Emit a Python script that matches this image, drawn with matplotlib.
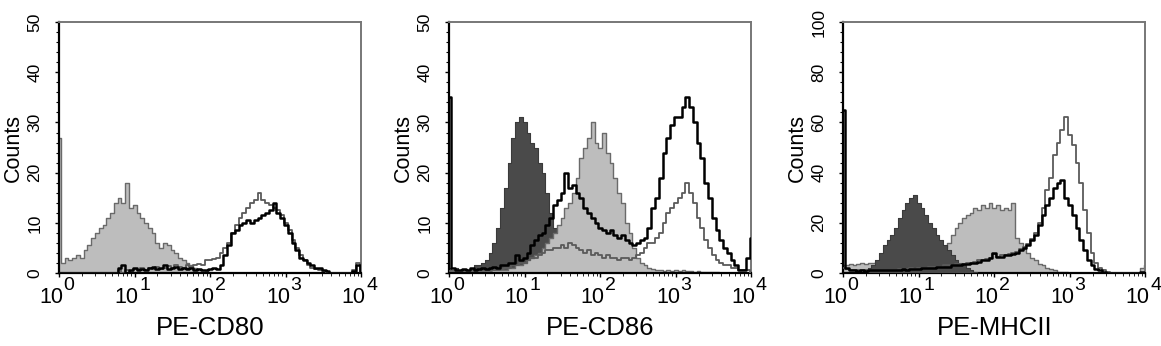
import numpy as np
import matplotlib
matplotlib.use('Agg')
import matplotlib.pyplot as plt
from matplotlib.ticker import FixedLocator, MultipleLocator

plt.rcParams['font.family'] = 'Liberation Sans'

# bin centres, log10 of fluorescence, 0.05 decade steps
log_bins = np.arange(81) * 0.05
decades = [0, 1, 2, 3, 4]

# ---- PE-CD80 ----
cd80_iso = [27, 2, 3, 2.5, 3, 3.5, 3, 4.5, 5.5, 7,
            8, 9, 9.5, 11, 12, 14, 15, 14, 18, 13,
            13.5, 12, 11, 10, 9, 8, 6, 5, 6, 5.5,
            4.5, 4, 3, 2.5, 2, 1.5, 1, 0.8, 0.5, 0.3,
            0.2, 0, 0, 0, 0, 0, 0, 0, 0, 0,
            0, 0, 0, 0, 0, 0, 0, 0, 0, 0,
            0, 0, 0, 0, 0, 0, 0, 0, 0, 0,
            0, 0, 0, 0, 0, 0, 0, 0, 0, 0, 0]
cd80_grey = [0, 0, 0, 0, 0, 0, 0, 0, 0, 0,
             0, 0, 0, 0, 0, 0, 0.5, 0, 0.5, 0.3,
             0.8, 0.5, 1, 0.6, 1, 0.8, 1.2, 0.7, 1, 1.3,
             1, 1.5, 1.2, 1, 1.5, 1.2, 1.5, 1.8, 1.5, 2.5,
             2.5, 2.8, 3, 4, 5, 6, 8, 9.5, 11, 12,
             13, 14, 14.5, 16, 14.5, 14, 13.5, 13, 12.5, 11.5,
             10, 8.5, 6.5, 5, 3.5, 2.5, 1.5, 1, 0.8, 0.5,
             0.3, 0, 0, 0, 0, 0, 0, 0, 0.5, 2, 0]
cd80_black = [0, 0, 0, 0, 0, 0, 0, 0, 0, 0,
              0, 0, 0, 0, 0, 0, 1, 1.5, 0, 0.5,
              1, 0.5, 0.8, 0.5, 1, 1.2, 0.8, 1, 1.5, 0.8,
              1, 1.2, 0.8, 1, 0.8, 1, 0.5, 0.8, 0.5, 0.5,
              0.8, 1, 0.8, 1.5, 3.5, 5.5, 8, 8.5, 9.5, 10,
              10.5, 10, 10.5, 11, 11.5, 12, 12.5, 14, 12, 11,
              9.5, 8, 6, 4.5, 3, 2.5, 2, 1.5, 1, 1,
              0.5, 0.3, 0, 0, 0, 0, 0, 0, 0.3, 1.5, 0]

# ---- PE-CD86 ----
cd86_iso = [1, 0.5, 1, 0.5, 0.8, 0.5, 1, 1.5, 1.5, 2,
            2.5, 4, 6, 9, 13, 17, 22, 27, 30, 31,
            30, 28, 26, 25, 22, 20, 16, 12, 9, 7,
            5, 4, 3, 2, 1.5, 1, 0.8, 0.5, 0.3, 0.2,
            0, 0, 0, 0, 0, 0, 0, 0, 0, 0,
            0, 0, 0, 0, 0, 0, 0, 0, 0, 0,
            0, 0, 0, 0, 0, 0, 0, 0, 0, 0,
            0, 0, 0, 0, 0, 0, 0, 0, 0, 0, 0]
cd86_fill = [0.5, 0.5, 0.5, 0.5, 0.5, 0.5, 0.5, 0.5, 0.5, 0.5,
             0.5, 0.5, 0.5, 0.5, 0.5, 0.5, 1, 1, 1.5, 1.5,
             2, 2.5, 3, 3.5, 4, 5, 6, 7, 8, 9.5,
             11, 13, 14, 16, 19, 23, 25, 27, 30, 26,
             25, 28, 24, 22, 19, 16, 14, 10, 8, 5,
             3, 2, 1.5, 1, 0.8, 0.5, 0.5, 0.3, 0.5, 0.3,
             0.5, 0.3, 0.5, 0.3, 0.3, 0.2, 0.3, 0.2, 0.2, 0.2,
             0.2, 0.2, 0, 0, 0, 0, 0, 0, 0, 0, 0]
cd86_grey = [0.3, 0.3, 0.3, 0.3, 0.3, 0.3, 0.3, 0.3, 0.3, 0.3,
             0.3, 0.3, 0.5, 0.5, 0.8, 1, 1, 1.5, 1.5, 2,
             2, 2.5, 3, 3, 3.5, 4, 4.5, 4.5, 5, 5,
             5.5, 5, 6, 5.5, 5, 4.5, 4, 4.5, 3.5, 4,
             3.5, 3, 3.5, 3, 3, 2.5, 3, 3, 2.5, 3,
             3.5, 4, 5, 6, 6, 7, 8, 10, 12, 13,
             14, 15, 16, 18, 16, 14, 11, 9, 6.5, 5,
             3.5, 2.5, 2, 1.5, 1.5, 1, 1, 0.5, 0.5, 0.5, 0]
cd86_black = [35, 1, 0.5, 0.5, 0.8, 0.5, 1, 0.5, 0.8, 1,
              0.8, 1, 1.2, 1, 1.5, 1.5, 2, 2, 3.5, 2.5,
              3, 4, 5.5, 6.5, 7.5, 8, 9.5, 11, 13.5, 14.5,
              16, 20, 17, 17.5, 16, 15, 13, 12, 11, 10,
              9, 8.5, 8, 8.5, 7.5, 7, 7.5, 6.5, 6, 5.5,
              6, 6.5, 7, 9, 13, 15, 19, 24, 27, 29.5,
              31, 31, 33, 35, 33, 30, 26, 23, 18, 15,
              11, 8.5, 6.5, 5, 4, 2.5, 1.5, 0.5, 0.5, 3, 7]

# ---- PE-MHCII ----
mhc_iso = [0, 0, 0, 0, 0, 0, 0, 2, 3, 5,
           8, 11, 13, 15, 18, 22, 25, 28, 30, 31,
           28, 26, 23, 20, 18, 15, 13, 11, 9, 7,
           5, 4, 3, 2, 1, 0.5, 0, 0, 0, 0,
           0, 0, 0, 0, 0, 0, 0, 0, 0, 0,
           0, 0, 0, 0, 0, 0, 0, 0, 0, 0,
           0, 0, 0, 0, 0, 0, 0, 0, 0, 0,
           0, 0, 0, 0, 0, 0, 0, 0, 0, 0, 0]
mhc_fill = [3, 3, 3.5, 3, 3.5, 4, 3.5, 4, 4, 4.5,
            4, 4.5, 5, 5, 5.5, 5, 6, 5.5, 6, 6.5,
            6, 7, 7, 7.5, 8, 9, 9.5, 10, 12, 15,
            18, 20, 22, 23, 24, 26, 25, 27, 26, 28,
            26, 27, 25, 26, 25, 28, 14, 12, 10, 8,
            6, 5, 3.5, 3, 2, 1.5, 1, 0.5, 0.5, 0.3,
            0, 0, 0, 0, 0, 0, 0, 0, 0, 0,
            0, 0, 0, 0, 0, 0, 0, 0, 0, 2, 3]
mhc_grey = [2, 1.5, 1, 1, 1, 1.2, 1, 1, 1.2, 1,
            1, 1.2, 1, 1.2, 1.2, 1.5, 1.5, 1.5, 1.8, 1.5,
            1.8, 2, 2, 2.2, 2.5, 2.5, 2.5, 3, 3, 3,
            3.5, 3.5, 3.5, 4, 4, 4.5, 5, 5, 5.5, 6,
            7.5, 6.5, 7, 7, 7.5, 8, 8.5, 9.5, 10.5, 11.5,
            13.5, 16, 20, 26, 33, 38, 47, 52, 57, 62,
            55, 51, 44, 36, 25, 16, 8, 4, 2, 1,
            0.5, 0, 0, 0, 0, 0, 0, 0, 0, 0, 0]
mhc_black = [65, 2, 1, 1, 0.8, 1, 0.8, 1, 1, 1,
             1, 1, 1, 1.2, 1, 1.2, 1.5, 1.2, 1.5, 1.5,
             1.5, 1.8, 2, 2, 2, 2.2, 2.5, 2.5, 2.5, 3,
             3, 3, 3.5, 3.5, 4, 4, 4.5, 5, 5, 6,
             8, 6.5, 6.5, 7, 7, 7.5, 8, 9, 10, 11,
             13, 15, 19, 23, 27, 30, 34, 36, 37, 30,
             27, 23, 18, 13, 9, 5, 3, 1.5, 1, 0.5,
             0, 0, 0, 0, 0, 0, 0, 0, 0, 0.5, 0]

panels = [
    ('PE-CD80', 50, 10, None, cd80_iso, cd80_grey, cd80_black, 0.0508, False),
    ('PE-CD86', 50, 10, cd86_iso, cd86_fill, cd86_grey, cd86_black, 0.3867, False),
    ('PE-MHCII', 100, 20, mhc_iso, mhc_fill, mhc_grey, mhc_black, 0.7261, True),
]

DARK = '#4a4a4a'
LIGHT = '#bdbdbd'
EDGE = '#6a6a6a'

fig = plt.figure(figsize=(11.61, 3.46), dpi=100)
x = 10 ** log_bins

for label, ymax, ystep, dark, light, grey, black, left, dark_top in panels:
    ax = fig.add_axes([left, 0.211, 0.2605, 0.725])
    zd = 3 if dark_top else 1
    if dark is not None:
        ax.fill_between(x, 0, dark, step='mid', color=DARK, lw=0, zorder=zd)
        ax.plot(x, dark, drawstyle='steps-mid', color='#3a3a3a', lw=0.8, zorder=zd)
    ax.fill_between(x, 0, light, step='mid', color=LIGHT, lw=0, zorder=2)
    ax.plot(x, light, drawstyle='steps-mid', color=EDGE, lw=1.0, zorder=2)
    ax.plot(x, grey, drawstyle='steps-mid', color='#5a5a5a', lw=1.3, zorder=4)
    ax.plot(x, black, drawstyle='steps-mid', color='black', lw=1.8, zorder=5)

    ax.set_xscale('log')
    ax.set_xlim(1, 1e4)
    ax.set_ylim(0, ymax)
    ax.xaxis.set_major_locator(FixedLocator([10 ** d for d in decades]))
    ax.yaxis.set_major_locator(MultipleLocator(ystep))
    ax.yaxis.set_minor_locator(MultipleLocator(ystep / 5))
    ax.tick_params(axis='x', length=3, width=1, labelbottom=False)
    ax.tick_params(axis='x', which='minor', length=2)
    ax.tick_params(axis='y', length=3, width=1, pad=9, labelsize=12.5)
    ax.tick_params(axis='y', which='minor', length=2, width=0.8)
    for t in ax.get_yticklabels():
        t.set_rotation(90)
        t.set_va('center')

    # 10^n labels, exponent at nearly full size like the cytometer software
    for d in decades:
        ax.annotate('10', xy=(10 ** d, 0), xycoords=('data', 'axes fraction'),
                    xytext=(3, -21.5), textcoords='offset points',
                    ha='right', va='baseline', fontsize=15.5, annotation_clip=False)
        ax.annotate(str(d), xy=(10 ** d, 0), xycoords=('data', 'axes fraction'),
                    xytext=(3.3, -12.5), textcoords='offset points',
                    ha='left', va='baseline', fontsize=14, annotation_clip=False)

    ax.set_xlabel(label, fontsize=18.5)
    ax.xaxis.set_label_coords(0.5, -0.17)
    ax.set_ylabel('Counts', fontsize=15.5)
    ax.yaxis.set_label_coords(-0.115, 0.5)

    for s in ['left', 'bottom']:
        ax.spines[s].set_linewidth(1.6)
        ax.spines[s].set_color('black')
    for s in ['top', 'right']:
        ax.spines[s].set_linewidth(1.4)
        ax.spines[s].set_color('#777777')

fig.savefig('out.png', dpi=100)
